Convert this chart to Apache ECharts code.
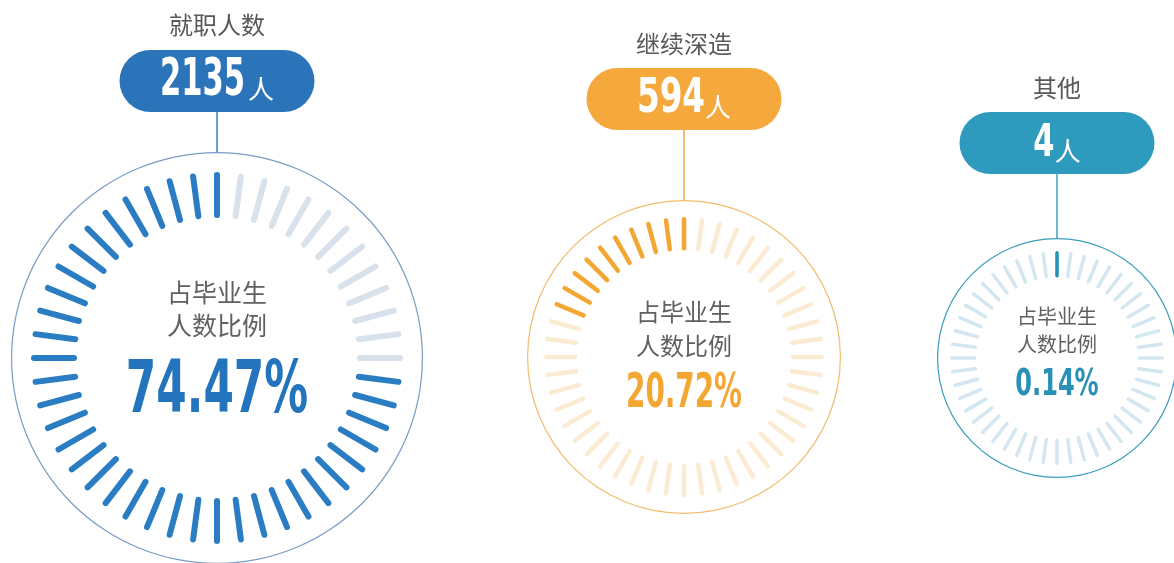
<!DOCTYPE html>
<html>
<head>
<meta charset="utf-8">
<script src="https://cdn.jsdelivr.net/npm/echarts@6.0.0/dist/echarts.min.js"></script>
<style>
  html, body { margin: 0; padding: 0; background: #fff; }
  #chart { width: 1174px; height: 563px; }
</style>
</head>
<body>
<div id="chart"></div>
<script>
// data
const names = ['就职人数', '继续深造', '其他']
const counts = [2135, 594, 4]
const ratios = [74.47, 20.72, 0.14]
const centerLabel = '占毕业生\n人数比例'
const unit = '人'
const tickCount = 48

// look of each ring
const looks = [
  { cx: 217, cy: 358, ring: 206, tickR: 186, tickLen: 40, tickW: 6, pillY: -277, nameY: -333,
    titleY: -49, titleSize: 25, titleLH: 33, pctY: 35, pctSize: 73, pctScale: 0.6,
    numSize: 51, numScale: 0.6, gap: 3,
    main: '#2a7dc3', faded: '#d8e2ed', pill: '#2c74ba', border: '#7a9cc4', link: '#3b7fc0', pct: '#2473bd' },
  { cx: 684, cy: 357, ring: 157, tickR: 140, tickLen: 29, tickW: 4.5, pillY: -258, nameY: -313,
    titleY: -28, titleSize: 24, titleLH: 34, pctY: 38, pctSize: 48, pctScale: 0.58,
    numSize: 48, numScale: 0.68, gap: 0,
    main: '#f3a631', faded: '#fcebd3', pill: '#f5a93d', border: '#f2bb6a', link: '#f2a540', pct: '#f4a632' },
  { cx: 1057, cy: 358, ring: 120, tickR: 107, tickLen: 23, tickW: 3.5, pillY: -215, nameY: -270,
    titleY: -28, titleSize: 20, titleLH: 28, pctY: 27, pctSize: 37, pctScale: 0.65,
    numSize: 45, numScale: 0.68, gap: 0,
    main: '#2494b3', faded: '#d4e6ef', pill: '#2e9abe', border: '#3b9dbd', link: '#3ba0c0', pct: '#2a90b6' },
]

const cjk = '"Noto Sans CJK SC", "Noto Sans", sans-serif'
const bold = '"DejaVu Sans", sans-serif'
const pillW = 195
const pillH = 62

const measure = document.createElement('canvas').getContext('2d')
function textWidth(text, font) {
  measure.font = font
  return measure.measureText(text).width
}

const hidden = {
  pointer: { show: false },
  anchor: { show: false },
  progress: { show: false },
  axisTick: { show: false },
  axisLabel: { show: false },
}

const series = []
const graphics = []

ratios.forEach((ratio, i) => {
  const s = looks[i]
  const p = ratio / 100

  // ticks, clockwise from 12 o'clock, the coloured share ends back at the top
  series.push({
    type: 'gauge',
    center: [s.cx, s.cy],
    radius: s.tickR,
    startAngle: 90,
    endAngle: -270,
    min: 0,
    max: 100,
    splitNumber: tickCount,
    ...hidden,
    axisLine: {
      show: false,
      lineStyle: { width: 0, color: [[1 - p, s.faded], [1, s.main]] },
    },
    splitLine: {
      show: true,
      distance: s.tickW / 2,
      length: s.tickLen,
      lineStyle: { color: 'auto', width: s.tickW, cap: 'round' },
    },
    title: {
      offsetCenter: [0, s.titleY],
      fontSize: s.titleSize,
      lineHeight: s.titleLH,
      color: '#606060',
      fontFamily: cjk,
    },
    detail: { show: false },
    data: [{ value: ratio, name: centerLabel }],
  })

  // outer ring and category name
  series.push({
    type: 'gauge',
    center: [s.cx, s.cy],
    radius: s.ring,
    startAngle: 90,
    endAngle: -270,
    min: 0,
    max: 10000,
    ...hidden,
    splitLine: { show: false },
    axisLine: { show: true, lineStyle: { width: 1.2, color: [[1, s.border]] } },
    title: {
      offsetCenter: [0, s.nameY],
      fontSize: 24,
      color: '#595757',
      fontFamily: cjk,
    },
    detail: { show: false },
    data: [{ value: counts[i], name: names[i] }],
  })

  // percentage in the middle, condensed like the poster type
  graphics.push({
    type: 'text',
    x: s.cx,
    y: s.cy + s.pctY,
    scaleX: s.pctScale,
    z: 20,
    style: {
      text: ratio.toFixed(2) + '%',
      font: `bold ${s.pctSize}px ${bold}`,
      fill: s.pct,
      align: 'center',
      verticalAlign: 'middle',
    },
  })

  // connector from pill to ring
  const pillCY = s.cy + s.pillY
  graphics.push({
    type: 'line',
    shape: { x1: s.cx, y1: pillCY + pillH / 2, x2: s.cx, y2: s.cy - s.ring },
    style: { stroke: s.link, lineWidth: 1.5 },
    z: 10,
  })

  // count pill
  graphics.push({
    type: 'rect',
    shape: { x: s.cx - pillW / 2, y: pillCY - pillH / 2, width: pillW, height: pillH, r: pillH / 2 },
    style: { fill: s.pill },
    z: 15,
  })
  const numText = String(counts[i])
  const numW = textWidth(numText, `bold ${s.numSize}px ${bold}`) * s.numScale
  const unitW = textWidth(unit, `26px ${cjk}`)
  const left = s.cx - (numW + s.gap + unitW) / 2
  graphics.push({
    type: 'text',
    x: left,
    y: pillCY + 1,
    scaleX: s.numScale,
    z: 20,
    style: {
      text: numText,
      font: `bold ${s.numSize}px ${bold}`,
      fill: '#fff',
      align: 'left',
      verticalAlign: 'middle',
    },
  })
  graphics.push({
    type: 'text',
    x: left + numW + s.gap,
    y: pillCY + 8,
    z: 20,
    style: {
      text: unit,
      font: `26px ${cjk}`,
      fill: '#fff',
      align: 'left',
      verticalAlign: 'middle',
    },
  })
})

const chart = echarts.init(document.getElementById('chart'))
chart.setOption({
  animation: false,
  backgroundColor: '#fff',
  graphic: graphics,
  series,
})
</script>
</body>
</html>
